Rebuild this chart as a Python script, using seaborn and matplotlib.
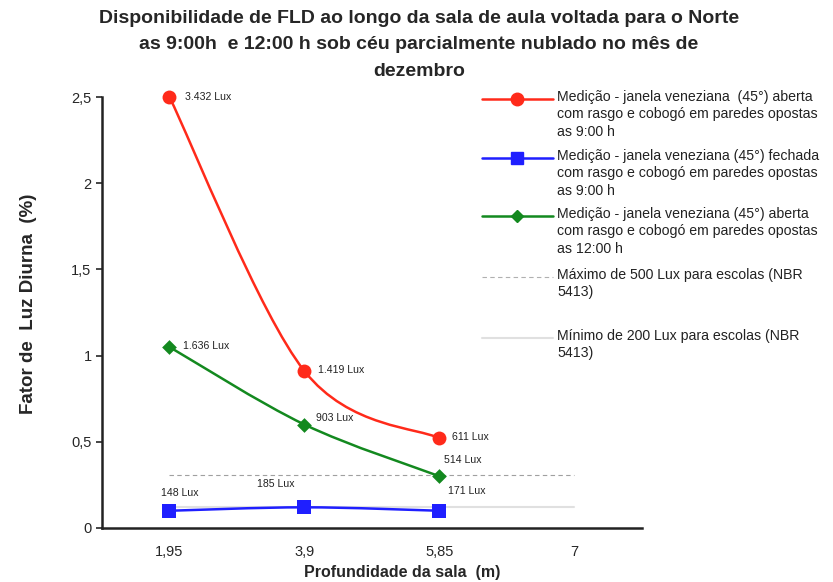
import numpy as np
import pandas as pd
import seaborn as sns
import matplotlib.pyplot as plt
from matplotlib.path import Path
from matplotlib.patches import PathPatch
from matplotlib.lines import Line2D

# dados
categorias = ["1,95", "3,9", "5,85", "7"]
fld_aberta_9h = [2.5, 0.91, 0.52]
fld_fechada_9h = [0.10, 0.12, 0.10]
fld_aberta_12h = [1.05, 0.60, 0.30]
lux_aberta_9h = ["3.432 Lux", "1.419 Lux", "611 Lux"]
lux_fechada_9h = ["148 Lux", "185 Lux", "171 Lux"]
lux_aberta_12h = ["1.636 Lux", "903 Lux", "514 Lux"]
max_500lux = [0.31, 0.31, 0.31, 0.31]
min_200lux = [0.12, 0.12, 0.12, 0.12]

legenda = [
    "Medição - janela veneziana  (45°) aberta\ncom rasgo e cobogó em paredes opostas\nas 9:00 h",
    "Medição - janela veneziana (45°) fechada\ncom rasgo e cobogó em paredes opostas\nas 9:00 h",
    "Medição - janela veneziana (45°) aberta\ncom rasgo e cobogó em paredes opostas\nas 12:00 h",
    "Máximo de 500 Lux para escolas (NBR\n5413)",
    "Mínimo de 200 Lux para escolas (NBR\n5413)",
]

sns.set_style("white")
plt.rcParams['font.family'] = ['Liberation Sans', 'DejaVu Sans']

RED = "#ff2a1a"
BLUE = "#1f1fff"
GREEN = "#13891f"


def smooth_path(xs, ys):
    # curva suavizada estilo Excel (Catmull-Rom -> Bezier)
    pts = np.column_stack([xs, ys]).astype(float)
    verts = [pts[0]]
    codes = [Path.MOVETO]
    n = len(pts)
    for i in range(n - 1):
        p0 = pts[i - 1] if i > 0 else pts[i]
        p1 = pts[i]
        p2 = pts[i + 1]
        p3 = pts[i + 2] if i + 2 < n else pts[i + 1]
        c1 = p1 + (p2 - p0) / 6
        c2 = p2 - (p3 - p1) / 6
        verts += [c1, c2, p2]
        codes += [Path.CURVE4] * 3
    return Path(verts, codes)


fig = plt.figure(figsize=(8.33, 5.82), dpi=100)
ax = fig.add_axes([0.1224, 0.0928, 0.6483, 0.7405])

xpos = np.arange(3)
series = [
    (fld_aberta_9h, RED, "o", 10, lux_aberta_9h),
    (fld_fechada_9h, BLUE, "s", 9.5, lux_fechada_9h),
    (fld_aberta_12h, GREEN, "D", 7.5, lux_aberta_12h),
]

# linhas de referência
ref = pd.DataFrame({"x": np.arange(4), "max": max_500lux, "min": min_200lux})
sns.lineplot(data=ref, x="x", y="max", ax=ax, color="#a0a0a0", lw=0.8,
             linestyle=(0, (4, 3)), zorder=1)
sns.lineplot(data=ref, x="x", y="min", ax=ax, color="#e0e0e0", lw=1.5, zorder=1)

for vals, col, mk, ms, _ in series:
    patch = PathPatch(smooth_path(xpos, vals), facecolor="none", edgecolor=col,
                      lw=1.8, zorder=2, clip_on=False)
    ax.add_patch(patch)
    df = pd.DataFrame({"x": xpos, "y": vals})
    sns.scatterplot(data=df, x="x", y="y", ax=ax, color=col, marker=mk,
                    s=ms ** 2, edgecolor=col, linewidth=0, zorder=3, clip_on=False)

# rótulos de lux
def rotular(vals, textos, offsets):
    for xx, yy, t, off in zip(xpos, vals, textos, offsets):
        ax.annotate(t, (xx, yy), xytext=off, textcoords="offset points",
                    fontsize=7.6, va="center", ha="left", color="#222222")

rotular(fld_aberta_9h, lux_aberta_9h, [(11, 0), (10, 1), (9, 1)])
rotular(fld_aberta_12h, lux_aberta_12h, [(10, 1), (8, 5), (3, 12)])
rotular(fld_fechada_9h, lux_fechada_9h, [(-6, 13), (-34, 17), (6, 14)])

ax.set_xlim(-0.5, 3.5)
ax.set_ylim(0, 2.5)
ax.set_xticks(np.arange(4))
ax.set_xticklabels(categorias, fontsize=10.5)
ax.set_xticks(np.arange(-0.5, 4, 1), minor=True)
ax.tick_params(axis="x", which="major", length=0, pad=12)
ax.tick_params(axis="x", which="minor", length=4, width=1.2, direction="out")
ax.set_yticks([0, 0.5, 1, 1.5, 2, 2.5])
ax.set_yticklabels(["0", "0,5", "1", "1,5", "2", "2,5"], fontsize=10.5)
ax.tick_params(axis="y", length=4, width=1.2, direction="out", left=True)
ax.tick_params(axis="x", bottom=True)
for s in ["top", "right"]:
    ax.spines[s].set_visible(False)
for s in ["left", "bottom"]:
    ax.spines[s].set_color("#222222")
    ax.spines[s].set_linewidth(1.8)

ax.set_xlabel("Profundidade da sala  (m)", fontsize=11.5, fontweight="bold")
ax.xaxis.set_label_coords(0.556, -0.085)
ax.set_ylabel("Fator de  Luz Diurna  (%)", fontsize=13.5, fontweight="bold")
ax.yaxis.set_label_coords(-0.12, 0.52)

fig.text(0.503, 0.983,
         "Disponibilidade de FLD ao longo da sala de aula voltada para o Norte\n"
         "as 9:00h  e 12:00 h sob céu parcialmente nublado no mês de\ndezembro",
         ha="center", va="top", fontsize=14, fontweight="bold", linespacing=1.72)

# legenda manual
W, H = 833, 582
leg_y = [99, 158, 216, 277, 338]
handles = [
    dict(color=RED, marker="o", ms=9, lw=1.8, ls="-"),
    dict(color=BLUE, marker="s", ms=9, lw=1.8, ls="-"),
    dict(color=GREEN, marker="D", ms=6, lw=1.8, ls="-"),
    dict(color="#b0b0b0", marker=None, ms=0, lw=0.8, ls=(0, (4, 3))),
    dict(color="#e0e0e0", marker=None, ms=0, lw=1.5, ls="-"),
]
for y, h, txt in zip(leg_y, handles, legenda):
    yf = 1 - y / H
    fig.add_artist(Line2D([482 / W, 553 / W], [yf, yf], transform=fig.transFigure,
                          color=h["color"], lw=h["lw"], ls=h["ls"]))
    if h["marker"]:
        fig.add_artist(Line2D([517 / W], [yf], transform=fig.transFigure,
                              color=h["color"], marker=h["marker"], ms=h["ms"], lw=0))
    fig.text(557 / W, yf + 9 / H, txt, ha="left", va="top", fontsize=10.2,
             color="#222222", linespacing=1.3)

fig.savefig("out.png", dpi=100)
